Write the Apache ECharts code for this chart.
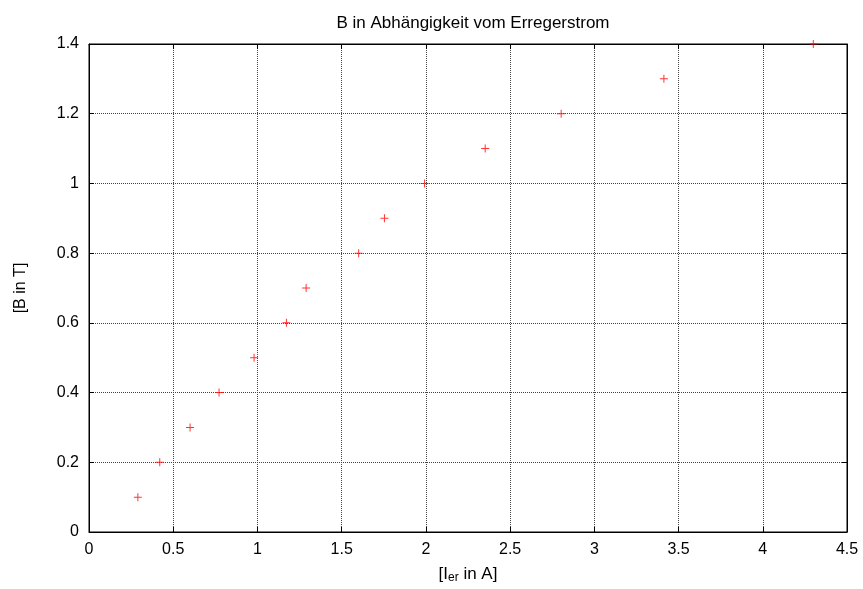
<!DOCTYPE html>
<html><head><meta charset="utf-8">
<script src="https://cdn.jsdelivr.net/npm/echarts@6/dist/echarts.min.js"></script>
<style>html,body{margin:0;padding:0;background:#fff}#c{width:863px;height:589px}</style>
</head><body><div id="c"></div>
<script>
const currentA = [0.29, 0.42, 0.60, 0.772, 0.98, 1.172, 1.289, 1.601, 1.754, 1.992, 2.352, 2.803, 3.413, 4.30];
const fieldT   = [0.1, 0.2, 0.3, 0.4, 0.5, 0.6, 0.7, 0.8, 0.9, 1.0, 1.1, 1.2, 1.3, 1.4];
const titleText = 'B in Abhängigkeit vom Erregerstrom';
const yName = '[B in T]';

const pts = currentA.map((x, i) => [x, fieldT[i]]);
const font = 'Liberation Sans, Arial, sans-serif';
const fs = 16;
const plus = 'path://M-0.5,-4L0.5,-4L0.5,-0.5L4,-0.5L4,0.5L0.5,0.5L0.5,4L-0.5,4L-0.5,0.5L-4,0.5L-4,-0.5L-0.5,-0.5Z';
const grid = {type: 'dotted', color: '#444', width: 1};
const chart = echarts.init(document.getElementById('c'), null, {renderer: 'canvas'});
chart.setOption({
  animation: false,
  backgroundColor: '#fff',
  title: {text: titleText, left: 468, top: 10, textAlign: 'center',
    textStyle: {fontFamily: font, fontSize: 17, fontWeight: 'normal', color: '#000'}},
  grid: {left: 89, right: 16, top: 44, bottom: 52, show: true, borderColor: '#000', borderWidth: 1},
  xAxis: [{
    type: 'value', min: 0, max: 4.5, interval: 0.5, position: 'bottom',
    name: '{a|[I}{s|er}{a| in A]}', nameLocation: 'middle', nameGap: 33,
    nameTextStyle: {rich: {a: {fontFamily: font, fontSize: 17, color: '#000'},
      s: {fontFamily: font, fontSize: 12, color: '#000', verticalAlign: 'bottom', padding: [7, 0, 0, 0]}}},
    axisLine: {show: true, onZero: false, lineStyle: {color: '#000'}},
    axisTick: {show: true, inside: true, length: 5, lineStyle: {color: '#000'}},
    axisLabel: {fontFamily: font, fontSize: fs, color: '#000', margin: 10,
      formatter: v => String(+v.toFixed(1))},
    splitLine: {show: true, lineStyle: grid}
  }, {
    type: 'value', min: 0, max: 4.5, interval: 0.5, position: 'top',
    axisLine: {show: true, onZero: false, lineStyle: {color: '#000'}},
    axisTick: {show: true, inside: true, length: 5, lineStyle: {color: '#000'}},
    axisLabel: {show: false}, splitLine: {show: false}
  }],
  yAxis: [{
    type: 'value', min: 0, max: 1.4, interval: 0.2, position: 'left',
    name: yName, nameLocation: 'middle', nameGap: 60, nameRotate: 90,
    nameTextStyle: {fontFamily: font, fontSize: fs, color: '#000'},
    axisLine: {show: true, onZero: false, lineStyle: {color: '#000'}},
    axisTick: {show: true, inside: true, length: 5, lineStyle: {color: '#000'}},
    axisLabel: {fontFamily: font, fontSize: fs, color: '#000', margin: 10,
      formatter: v => String(+v.toFixed(1))},
    splitLine: {show: true, lineStyle: grid}
  }, {
    type: 'value', min: 0, max: 1.4, interval: 0.2, position: 'right',
    axisLine: {show: true, onZero: false, lineStyle: {color: '#000'}},
    axisTick: {show: true, inside: true, length: 5, lineStyle: {color: '#000'}},
    axisLabel: {show: false}, splitLine: {show: false}
  }],
  series: [{
    type: 'scatter', data: pts, symbol: plus, symbolSize: 8,
    itemStyle: {color: '#ff0000'}, clip: false
  }]
});
</script></body></html>
